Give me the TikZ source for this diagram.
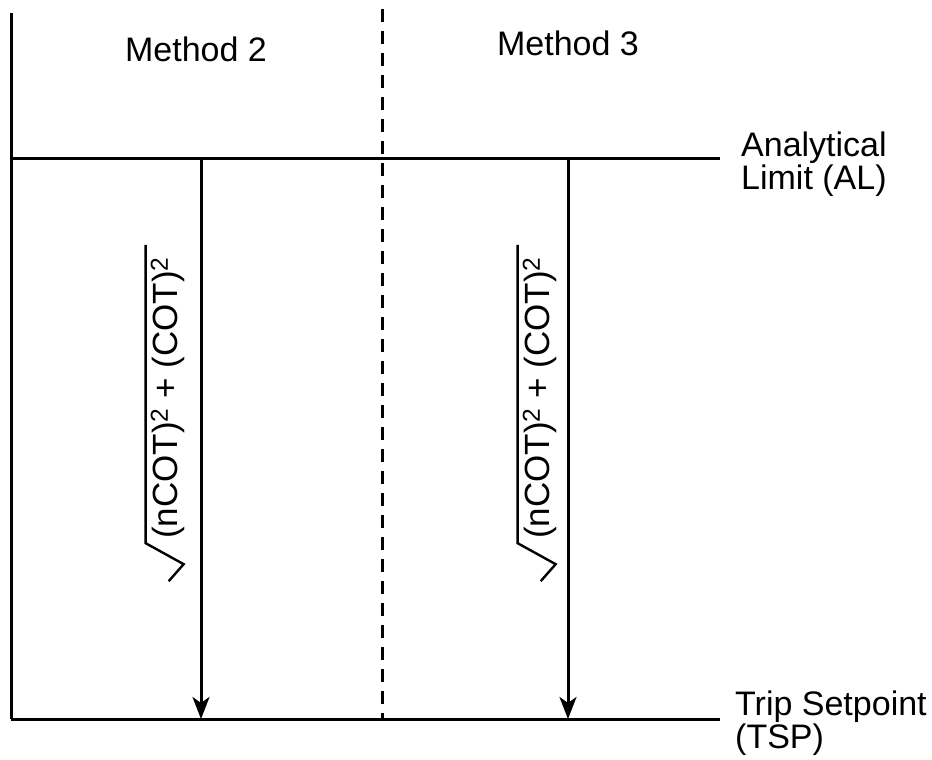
\documentclass[tikz,border=0pt]{standalone}
\usepackage{fontspec}
\setmainfont{Liberation Sans}
\usetikzlibrary{arrows.meta,calc}

\begin{document}
\begin{tikzpicture}[->, >={Stealth[length=22pt,width=17pt,inset=6pt]}, x=1pt, y=-1pt,
	lbl/.style={font=\fontsize{34}{31}\selectfont, inner sep=0pt},
	frame/.style={-, line width=3pt},
	radical/.style={-, line width=2.4pt, line join=miter}]

	\useasboundingbox (0,0) rectangle (932,760);

	% === FRAME === (((
	\coordinate (top) at (11,13);
	\coordinate (alw) at (11,158);
	\coordinate (ale) at (720,158);
	\coordinate (tspw) at (11,719);
	\coordinate (tspe) at (720,719);
	\coordinate (dtop) at (382,9);
	\coordinate (dbot) at (382,719);
	\draw [frame] (top) -- (tspw);
	\draw [frame] (alw) -- (ale);
	\draw [frame] (tspw) -- (tspe);
	\draw [frame, dash pattern=on 13pt off 9pt] (dtop) -- (dbot);
	% )))

	% === METHODS === (((
	\foreach \n/\x/\m/\y/\b in {2/201/196/62/177, 3/568/568/56/549} {
		\coordinate (al\n) at (\x,158);
		\coordinate (tsp\n) at (\x,719);
		\node [lbl, anchor=base] (method\n) at (\m,\y) {Method \n};
		\draw [line width=3pt] (al\n) -- (tsp\n);
		\node [lbl, font=\fontsize{35}{35}\selectfont, rotate=90, anchor=base] (cot\n) at (\b,398)
		{(nCOT)\textsuperscript{2} + (COT)\textsuperscript{2}};
		\draw [radical] ($(cot\n.north east)+(-5,-12)$) -- ($(cot\n.north west)+(-5,4)$)
			-- ($(cot\n.north west)+(33,25)$) -- ($(cot\n.north west)+(18,42)$);
	}
	% )))

	% === LEVELS === (((
	\node [lbl, anchor=north west, align=left] (allab) at (741,132) {Analytical\\Limit (AL)};
	\node [lbl, anchor=north west, align=left] (tsplab) at (735,691) {Trip Setpoint\\(TSP)};
	% )))

\end{tikzpicture}
\end{document}
